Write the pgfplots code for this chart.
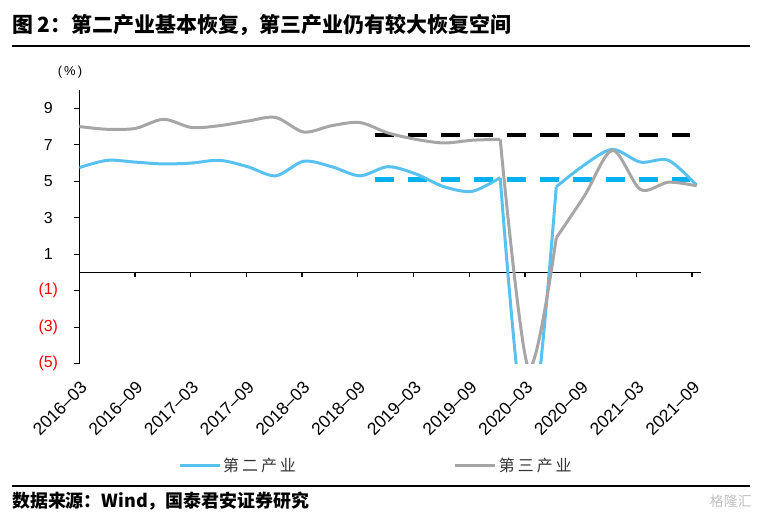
\documentclass[border=0pt]{standalone}
\usepackage{fontspec}
\setmainfont{Liberation Sans}
\newfontfamily\cjk{Noto Sans CJK SC}
\usepackage{pgfplots}
\pgfplotsset{compat=1.18}

\definecolor{indblue}{RGB}{88,193,240}
\definecolor{refblue}{RGB}{0,176,240}
\definecolor{indgray}{RGB}{166,166,166}

% quarterly yoy growth, x in months from 2016-03
\pgfplotstableread{
x      second  third
0.00   5.75    8.00
3.02   6.15    7.85
6.05   6.05    7.90
9.07   5.95    8.40
12.09  6.00    7.95
15.11  6.15    8.05
18.14  5.80    8.30
21.16  5.30    8.50
24.18  6.10    7.70
27.20  5.80    8.05
30.23  5.30    8.22
33.25  5.80    7.65
36.27  5.40    7.30
39.29  4.70    7.10
42.32  4.45    7.25
45.34  5.20    7.30
48.36  -9.60   -5.20
51.38  4.70    1.90
54.41  5.90    4.20
57.43  6.75    6.70
60.45  6.05    4.55
63.47  6.15    4.95
66.50  4.78    4.75
}\gdpdata

\begin{document}
\begin{tikzpicture}[x=1bp,y=1bp]
\path[use as bounding box] (0,0) rectangle (763,518);

\node[anchor=west, inner sep=0pt] at (12,493)
  {\cjk\bfseries\fontsize{21}{24}\selectfont 图 2：第二产业基本恢复，第三产业仍有较大恢复空间};
\draw[line width=1.3bp] (12,472) -- (750,472);
\draw[line width=1.3bp] (12,32) -- (750,32);
\node[anchor=west, inner sep=0pt] at (12,17)
  {\cjk\bfseries\fontsize{18}{22}\selectfont 数据来源：Wind，国泰君安证券研究};
\node[anchor=east, inner sep=0pt, text=black!25] at (752,17)
  {\cjk\fontsize{14}{16}\selectfont 格隆汇};
\node[inner sep=0pt] at (70,446) {\fontsize{13}{15}\selectfont (\,\%\,)};

\begin{axis}[
  at={(79.3bp,154.3bp)}, anchor=south west,
  width=621.4bp, height=273.6bp, scale only axis,
  xmin=0, xmax=66.94, ymin=-5, ymax=10,
  axis x line=middle, axis y line=left,
  axis line style={-, line width=1.3bp, black},
  hide obscured x ticks=false,
  xtick={0,6,...,66},
  xticklabels={2016–03,2016–09,2017–03,2017–09,2018–03,2018–09,
    2019–03,2019–09,2020–03,2020–09,2021–03,2021–09},
  ytick={-5,-3,-1,1,3,5,7,9},
  yticklabels={\textcolor{red}{(5)},\textcolor{red}{(3)},\textcolor{red}{(1)},1,3,5,7,9},
  tick style={black, line width=1.3bp},
  major tick length=5bp,
  tick align=outside,
  x tick label style={font=\fontsize{17.5}{20}\selectfont, yshift=-104.5bp, xshift=7bp, rotate=45, anchor=east},
  y tick label style={font=\fontsize{16}{19}\selectfont, anchor=center, xshift=-26bp},
  legend style={at={(axis description cs:0.1588,-0.371)}, anchor=west,
    draw=none, fill=none, inner sep=0pt, legend columns=2,
    font=\cjk\fontsize{16}{18}\selectfont, text=black!80,
    /tikz/every even column/.append style={column sep=156bp}},
  legend image code/.code={\draw[#1] (0bp,0bp) -- (40bp,0bp);},
]
\addplot[black, line width=4.5bp, dash pattern=on 19.5bp off 13.5bp, forget plot]
  coordinates {(31.8,7.55) (65.8,7.55)};
\addplot[refblue, line width=4.5bp, dash pattern=on 19.5bp off 13.5bp, forget plot]
  coordinates {(31.8,5.1) (65.8,5.1)};
% each curve in three smooth pieces so the 2020 plunge does not overshoot
\addplot[indblue, line width=3bp, smooth, skip coords between index={16}{23}]
  table[x=x, y=second] {\gdpdata};
\addlegendentry{第\hspace{3bp}二\hspace{3bp}产\hspace{3bp}业}
\addplot[indblue, line width=3bp, smooth, forget plot,
  skip coords between index={0}{15}, skip coords between index={18}{23}]
  table[x=x, y=second] {\gdpdata};
\addplot[indblue, line width=3bp, smooth, forget plot, skip coords between index={0}{17}]
  table[x=x, y=second] {\gdpdata};
\addplot[indgray, line width=3bp, smooth, skip coords between index={16}{23}]
  table[x=x, y=third] {\gdpdata};
\addlegendentry{第\hspace{3bp}三\hspace{3bp}产\hspace{3bp}业}
\addplot[indgray, line width=3bp, smooth, forget plot,
  skip coords between index={0}{15}, skip coords between index={18}{23}]
  table[x=x, y=third] {\gdpdata};
\addplot[indgray, line width=3bp, smooth, forget plot, skip coords between index={0}{17}]
  table[x=x, y=third] {\gdpdata};
\end{axis}
\end{tikzpicture}
\end{document}
